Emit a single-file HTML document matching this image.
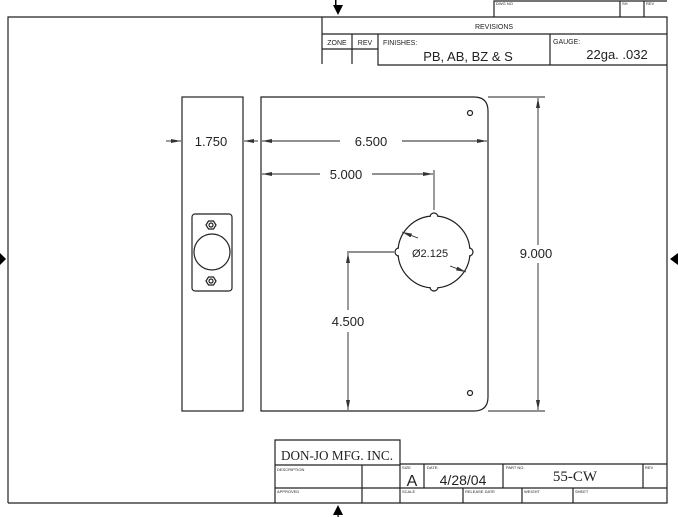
<!DOCTYPE html>
<html><head><style>body{margin:0;background:#fff}svg{display:block}text{font-family:"Liberation Sans",sans-serif}text.s{font-family:"Liberation Serif",serif}</style></head><body>
<svg width="678" height="517" viewBox="0 0 678 517" xmlns="http://www.w3.org/2000/svg">
<defs><marker id="a" viewBox="0 0 10 6" refX="10" refY="3" markerWidth="10" markerHeight="6" orient="auto-start-reverse" markerUnits="userSpaceOnUse"><path d="M0,1 L10,3 L0,5z" fill="#333"/></marker></defs>
<g fill="none" stroke="#222" stroke-width="1.2">
<path d="M8,503 V17 H667 V503 H8"/>
<path d="M494,17 V1 H667 M620,1 V17 M644,1 V17"/>
<path d="M322,17 V64 M322,34 H667 M322,49 H378 M352,34 V64 M378,34 V65 H667 M550,34 V65"/>
<path d="M275,503 V440 H400 V503 M275,465 H400 M275,488 H667 M400,464 H667 M362,465 V503 M424,464 V488 M503,464 V488 M643,464 V488 M463,488 V503 M522,488 V503 M573,488 V503"/>
<rect x="182" y="97" width="61" height="314"/>
<rect x="192" y="214" width="40" height="77" rx="3"/>
<circle cx="212" cy="252" r="18"/>
<polygon points="206,225 208.5,221 213.5,221 216,225 213.5,229 208.5,229"/><circle cx="211" cy="225" r="2"/>
<polygon points="206,281 208.5,277 213.5,277 216,281 213.5,285 208.5,285"/><circle cx="211" cy="281" r="2"/>
<path d="M261,97 H474 Q488,97 488,111 V397 Q488,411 474,411 H261 Z"/>
<circle cx="470" cy="113" r="2.5"/><circle cx="470" cy="393" r="2.5"/>
<circle cx="434" cy="252" r="36"/>
</g>
<g fill="#fff" stroke="#222" stroke-width="1.2">
<path d="M430,217 A4,4 0 0 1 438,217"/><path d="M430,287 A4,4 0 0 0 438,287"/>
<path d="M399,248 A4,4 0 0 0 399,256"/><path d="M469,248 A4,4 0 0 1 469,256"/>
</g>
<g fill="none" stroke="#222" stroke-width="0.9">
<path d="M488,97 H545 M488,411 H545 M434,170 V210 M347,252 H394"/>
<line x1="538" y1="245" x2="538" y2="98" marker-end="url(#a)"/>
<line x1="538" y1="263" x2="538" y2="410" marker-end="url(#a)"/>
<line x1="340" y1="141" x2="262" y2="141" marker-end="url(#a)"/>
<line x1="402" y1="141" x2="487" y2="141" marker-end="url(#a)"/>
<line x1="320" y1="174" x2="262" y2="174" marker-end="url(#a)"/>
<line x1="372" y1="174" x2="433" y2="174" marker-end="url(#a)"/>
<line x1="348" y1="310" x2="348" y2="253" marker-end="url(#a)"/>
<line x1="348" y1="332" x2="348" y2="410" marker-end="url(#a)"/>
<line x1="166" y1="141" x2="181" y2="141" marker-end="url(#a)"/>
<line x1="258" y1="141" x2="244" y2="141" marker-end="url(#a)"/>
<line x1="418" y1="238" x2="402" y2="232" marker-end="url(#a)"/>
<line x1="450" y1="266" x2="466" y2="272" marker-end="url(#a)"/>
</g>
<g fill="#000">
<path d="M333,5 L343,5 L338,15z"/><path d="M333,515 L343,515 L338,505z"/>
<path d="M0,253 L6,259 L0,265z"/><path d="M678,253 L670,259 L678,265z"/>
<rect x="335" y="0" width="1.5" height="6"/><rect x="337.5" y="510" width="1.2" height="7"/>
</g>
<g font-size="13" fill="#222">
<text x="211" y="146" text-anchor="middle">1.750</text>
<text x="371" y="146" text-anchor="middle">6.500</text>
<text x="346" y="179" text-anchor="middle">5.000</text>
<text x="348" y="326" text-anchor="middle">4.500</text>
<text x="536" y="258" text-anchor="middle">9.000</text>
<text x="412" y="257" font-size="11">Ø2.125</text>
</g>
<g fill="#222">
<text x="494" y="29" text-anchor="middle" font-size="7">REVISIONS</text>
<text x="337" y="45" text-anchor="middle" font-size="7">ZONE</text>
<text x="365" y="45" text-anchor="middle" font-size="7">REV</text>
<text x="383" y="45" font-size="7">FINISHES:</text>
<text x="553" y="44" font-size="7">GAUGE:</text>
<text x="468" y="61" text-anchor="middle" font-size="13">PB, AB, BZ &amp; S</text>
<text x="617" y="59" text-anchor="middle" font-size="13">22ga.  .032</text>
<text x="496" y="5" font-size="4">DWG NO</text>
<text x="622" y="5" font-size="4">SH</text>
<text x="646" y="5" font-size="4">REV</text>
<text class="s" x="337" y="460" text-anchor="middle" font-size="14" textLength="112" lengthAdjust="spacingAndGlyphs">DON-JO MFG. INC.</text>
<text x="412" y="486" text-anchor="middle" font-size="16">A</text>
<text x="463" y="485" text-anchor="middle" font-size="14">4/28/04</text>
<text class="s" x="575" y="481" text-anchor="middle" font-size="15">55-CW</text>
<g font-size="4"><text x="277" y="471">DESCRIPTION</text><text x="277" y="493">APPROVED</text><text x="402" y="469">SIZE</text><text x="427" y="469">DATE:</text><text x="506" y="469">PART NO.</text><text x="645" y="469">REV</text><text x="402" y="493">SCALE</text><text x="465" y="493">RELEASE DATE</text><text x="524" y="493">WEIGHT</text><text x="575" y="493">SHEET</text></g>
</g>
</svg>
</body></html>
